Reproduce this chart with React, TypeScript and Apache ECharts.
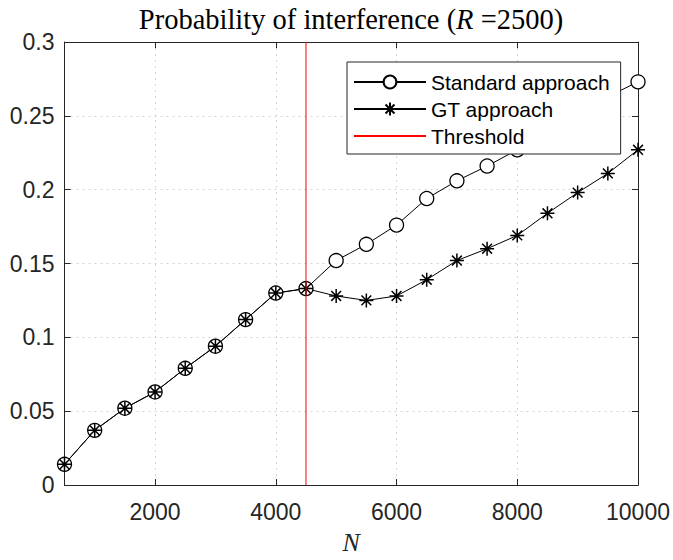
import React, { useEffect, useRef } from "react";
import * as echarts from "echarts";

const nValues = [500, 1000, 1500, 2000, 2500, 3000, 3500, 4000, 4500, 5000, 5500, 6000, 6500, 7000, 7500, 8000, 8500, 9000, 9500, 10000];
const standardValues = [0.014, 0.037, 0.052, 0.063, 0.079, 0.094, 0.112, 0.130, 0.133, 0.152, 0.163, 0.176, 0.194, 0.206, 0.216, 0.227, 0.238, 0.250, 0.263, 0.273];
const gtValues = [0.014, 0.037, 0.052, 0.063, 0.079, 0.094, 0.112, 0.130, 0.133, 0.128, 0.125, 0.128, 0.139, 0.152, 0.160, 0.169, 0.184, 0.198, 0.211, 0.227];
const thresholdN = 4500;
const xTicks = [2000, 4000, 6000, 8000, 10000];
const seriesNames = ["Standard approach", "GT approach", "Threshold"];

const AX = "#262626";
const SANS = "Liberation Sans, Arial, sans-serif";
const SERIF = "Liberation Serif, Times New Roman, serif";
const ASTERISK = "path://M50 0 L50 100 M0 50 L100 50 M15 15 L85 85 M85 15 L15 85";

export default function App() {
  const ref = useRef<HTMLDivElement>(null);
  useEffect(() => {
    if (!ref.current) return;
    const chart = echarts.init(ref.current, null, { renderer: "svg" });
    const xCommon = {
      type: "value" as const,
      min: 500,
      max: 10000,
      axisLine: { show: true, onZero: false, lineStyle: { color: AX, width: 1 } },
      axisTick: { show: true, inside: true, length: 6, customValues: xTicks, lineStyle: { color: AX } },
    };
    const yCommon = {
      type: "value" as const,
      min: 0,
      max: 0.3,
      interval: 0.05,
      axisLine: { show: true, onZero: false, lineStyle: { color: AX, width: 1 } },
      axisTick: { show: true, inside: true, length: 6, lineStyle: { color: AX } },
    };
    chart.setOption({
      animation: false,
      backgroundColor: "#fff",
      grid: { left: 64.5, right: 34.3, top: 42, bottom: 69, containLabel: false },
      graphic: [
        {
          type: "text",
          x: 351,
          y: 19,
          style: {
            text: "Probability of interference ({i|R} =2500)",
            textAlign: "center",
            textVerticalAlign: "middle",
            fontFamily: SERIF,
            fontSize: 28.5,
            fill: "#000",
            rich: { i: { fontStyle: "italic", fontFamily: SERIF, fontSize: 28.5, fill: "#000" } },
          },
        },
      ],
      xAxis: [
        {
          ...xCommon,
          position: "bottom",
          axisLabel: {
            customValues: xTicks,
            fontSize: 23,
            fontFamily: SANS,
            color: AX,
            margin: 15,
            formatter: (v: number) => String(v),
          },
          splitLine: { show: true, lineStyle: { type: [2, 4], color: "#d4d4d4", width: 1 } },
          name: "N",
          nameLocation: "middle",
          nameGap: 44,
          nameTextStyle: { fontFamily: SERIF, fontStyle: "italic", fontSize: 26, color: AX },
        },
        {
          ...xCommon,
          position: "top",
          axisLabel: { show: false },
          splitLine: { show: false },
        },
      ],
      yAxis: [
        {
          ...yCommon,
          position: "left",
          axisLabel: { fontSize: 23, fontFamily: SANS, color: AX, margin: 10 },
          splitLine: { show: true, lineStyle: { type: [2, 4], color: "#d4d4d4", width: 1 } },
        },
        {
          ...yCommon,
          position: "right",
          axisLabel: { show: false },
          splitLine: { show: false },
        },
      ],
      legend: {
        orient: "vertical",
        left: 347,
        top: 62,
        backgroundColor: "#fff",
        borderColor: AX,
        borderWidth: 1,
        borderRadius: 0,
        padding: [9, 11, 7, 6],
        itemGap: 5,
        itemWidth: 72,
        itemHeight: 16,
        textStyle: { fontFamily: SANS, fontSize: 21, color: "#000", lineHeight: 22 },
        data: [
          { name: seriesNames[0] },
          { name: seriesNames[1] },
          { name: seriesNames[2], itemStyle: { opacity: 0 } },
        ],
      },
      series: [
        {
          name: seriesNames[0],
          type: "line",
          data: nValues.map((n, i) => [n, standardValues[i]]),
          symbol: "circle",
          symbolSize: 14,
          showAllSymbol: true,
          lineStyle: { color: "#000", width: 1 },
          itemStyle: { color: "#fff", borderColor: "#000", borderWidth: 1.3 },
          z: 2,
        },
        {
          name: seriesNames[1],
          type: "line",
          data: nValues.map((n, i) => [n, gtValues[i]]),
          symbol: ASTERISK,
          symbolSize: 14,
          showAllSymbol: true,
          lineStyle: { color: "#000", width: 1 },
          itemStyle: { color: "#000", borderColor: "#000", borderWidth: 1.5 },
          z: 2,
        },
        {
          name: seriesNames[2],
          type: "line",
          data: [
            [thresholdN, 0],
            [thresholdN, 0.3],
          ],
          symbol: "none",
          lineStyle: { color: "#ff0000", width: 1 },
          itemStyle: { color: "#ff0000" },
          z: 3,
        },
      ],
    });
    return () => chart.dispose();
  }, []);
  return (
    <div
      ref={ref}
      style={{ position: "fixed", left: 0, top: 0, width: 673, height: 560, background: "#fff" }}
    />
  );
}
